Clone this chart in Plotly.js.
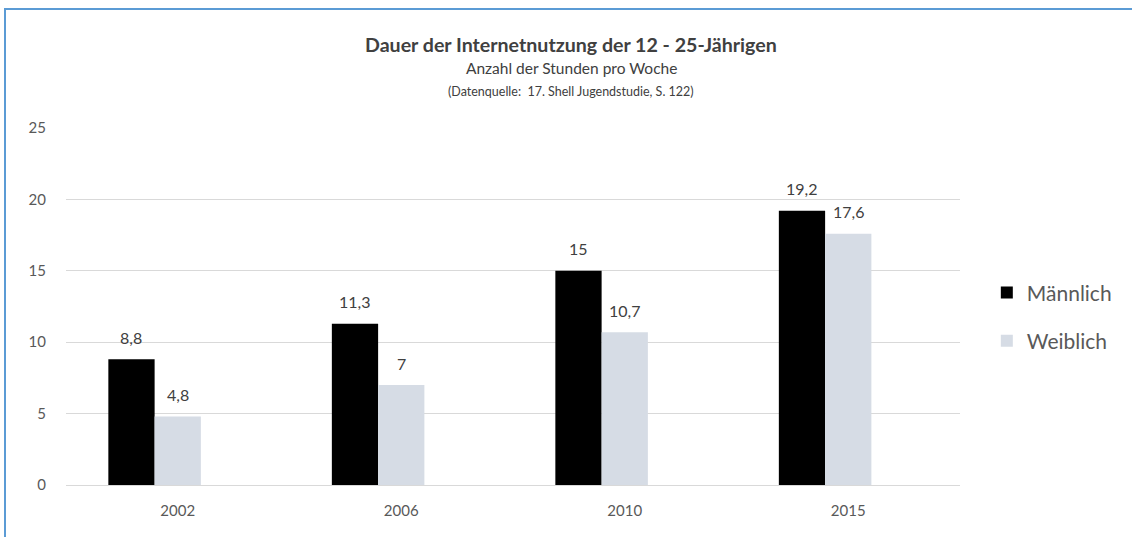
<!DOCTYPE html>
<html>
<head>
<meta charset="utf-8">
<script src="https://cdn.plot.ly/plotly-3.0.1.min.js"></script>
<style>
  html, body { margin: 0; padding: 0; background: #ffffff; }
  #wrap { position: relative; width: 1132px; height: 537px; overflow: hidden; }
  #chart { position: absolute; left: 0; top: 0; width: 1132px; height: 537px; }
  #frame { position: absolute; left: 4px; top: 8px; width: 1200px; height: 600px;
           border-left: 2px solid #5b9bd5; border-top: 2px solid #5b9bd5; pointer-events: none; }
</style>
</head>
<body>
<div id="wrap">
  <div id="chart"></div>
  <div id="frame"></div>
</div>
<script>
const years = ["2002", "2006", "2010", "2015"];
const maennlich = [8.8, 11.3, 15, 19.2];
const weiblich = [4.8, 7, 10.7, 17.6];
const seriesNames = ["Männlich", "Weiblich"];
const titleText = "Dauer der Internetnutzung der 12 - 25-Jährigen";
const subtitleText = "Anzahl der Stunden pro Woche";
const sourceText = "(Datenquelle:  17. Shell Jugendstudie, S. 122)";

const FONT = "Lato, 'Open Sans', sans-serif";
const barW = 0.207;
const idx = years.map((_, i) => i);

const tM = {
  type: "bar", name: seriesNames[0], x: idx, y: maennlich,
  marker: { color: "#000000" },
  width: barW, offset: -1.5 * barW,
  legendgroup: "m", hoverinfo: "y"
};
const tW = {
  type: "bar", name: seriesNames[1], x: idx, y: weiblich,
  marker: { color: "#d6dce5" },
  width: barW, offset: -0.5 * barW,
  legendgroup: "w", hoverinfo: "y"
};

const fmt = v => String(v).replace(".", ",");
const labelFont = { family: FONT, size: 16, color: "#404040" };
const annotations = [];
idx.forEach(i => {
  annotations.push({ x: i - barW, y: maennlich[i], xref: "x", yref: "y",
    text: fmt(maennlich[i]), showarrow: false, yanchor: "middle", yshift: 22, font: labelFont });
  annotations.push({ x: i, y: weiblich[i], xref: "x", yref: "y",
    text: fmt(weiblich[i]), showarrow: false, yanchor: "middle", yshift: 22, font: labelFont });
});
annotations.push({ xref: "paper", yref: "paper", x: 0.565, y: 1.2325, showarrow: false,
  xanchor: "center", yanchor: "middle",
  text: "<b>" + titleText + "</b>", font: { family: FONT, size: 19.6, color: "#404040" } });
annotations.push({ xref: "paper", yref: "paper", x: 0.565, y: 1.168, showarrow: false,
  xanchor: "center", yanchor: "middle",
  text: subtitleText, font: { family: FONT, size: 15.5, color: "#404040" } });
annotations.push({ xref: "paper", yref: "paper", x: 0.565, y: 1.1036, showarrow: false,
  xanchor: "center", yanchor: "middle",
  text: sourceText, font: { family: FONT, size: 12.5, color: "#404040" } });

const layout = {
  width: 1132, height: 537,
  margin: { l: 66, r: 172, t: 128, b: 52 },
  paper_bgcolor: "#ffffff", plot_bgcolor: "#ffffff",
  font: { family: FONT, color: "#595959" },
  showlegend: true,
  legend: { x: 1.03, y: 0.596, xanchor: "left", yanchor: "top",
    font: { family: FONT, size: 21, color: "#595959" },
    traceorder: "grouped", tracegroupgap: 18, itemwidth: 30 },
  xaxis: { range: [-0.5, 3.5], tickmode: "array", tickvals: idx, ticktext: years,
    showgrid: false, showline: false, zeroline: false,
    ticks: "outside", ticklen: 12, tickcolor: "rgba(0,0,0,0)",
    tickfont: { family: FONT, size: 15, color: "#595959" } },
  yaxis: { range: [0, 25], dtick: 5, showgrid: true, gridcolor: "#d9d9d9", gridwidth: 1,
    zeroline: true, zerolinecolor: "#d9d9d9", zerolinewidth: 1, showline: false,
    ticks: "outside", ticklen: 16, tickcolor: "rgba(0,0,0,0)",
    tickfont: { family: FONT, size: 15, color: "#595959" } },
  annotations: annotations
};

Plotly.newPlot("chart", [tM, tW], layout, { displayModeBar: false, staticPlot: true });
</script>
</body>
</html>
